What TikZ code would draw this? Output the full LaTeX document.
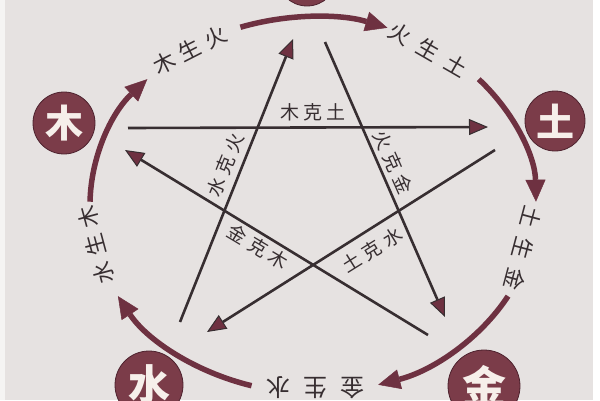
\documentclass[tikz,border=0pt]{standalone}
\usepackage{fontspec}
\setmainfont{Noto Sans CJK SC}
\usetikzlibrary{arrows.meta}
\definecolor{bg}{HTML}{E6E2E1}
\definecolor{maroon}{HTML}{6E3141}
\definecolor{elemfill}{HTML}{7B3C49}
\definecolor{ink}{HTML}{372E31}
\definecolor{cream}{HTML}{F6EFEA}
\begin{document}
\begin{tikzpicture}[x=1pt,y=1pt,
 elem/.style={circle, fill=elemfill, draw=maroon!70!black, line width=0.8pt, text=cream, inner sep=0pt, font=\bfseries\fontsize{38}{38}\selectfont},
 shengarc/.style={maroon, line width=5.5pt, -{Triangle[length=22pt,width=20pt,line width=0.5pt]}},
 kearrow/.style={ink, line width=2.6pt, -{Triangle[length=19pt,width=16pt,fill=maroon,line width=1pt]}},
 shenglbl/.style={text=ink, inner sep=0pt, font=\fontsize{22}{22}\selectfont},
 kelbl/.style={text=ink, inner sep=0pt, font=\fontsize{19}{19}\selectfont}]
\useasboundingbox (0,0) rectangle (600,400);
\fill[bg] (0,0) rectangle (600,400);
\fill[white] (593,0) rectangle (600,400);
\fill[white!60!bg] (0,0) rectangle (5,400);
% element circles
\node[elem, minimum size=60pt] (huo) at (307,424) {火};
\node[elem, minimum size=62pt] (mu) at (64,277) {木};
\node[elem, minimum size=60pt] (tu) at (555,279) {土};
\node[elem, minimum size=68pt, font=\bfseries\fontsize{42}{42}\selectfont] (shui) at (149,15) {水};
\node[elem, minimum size=72pt, font=\bfseries\fontsize{44}{44}\selectfont] (jin) at (484,14) {金};
% outer generating cycle
\coordinate (O) at (313,195);
\path (O) ++(179:223pt and 188pt) coordinate (a1s);
\path (O) ++(109:223pt and 188pt) coordinate (a2s);
\path (O) ++(42:223pt and 188pt) coordinate (a3s);
\path (O) ++(-29:223pt and 188pt) coordinate (a4s);
\path (O) ++(-106:223pt and 188pt) coordinate (a5s);
\draw[shengarc] (a1s) arc[start angle=179, end angle=138, x radius=223, y radius=188];
\draw[shengarc] (a2s) arc[start angle=109, end angle=70.5, x radius=223, y radius=188];
\draw[shengarc] (a3s) arc[start angle=42, end angle=1, x radius=223, y radius=188];
\draw[shengarc] (a4s) arc[start angle=-29, end angle=-73, x radius=223, y radius=188];
\draw[shengarc] (a5s) arc[start angle=-106, end angle=-151, x radius=223, y radius=188];
% generating labels
\node[shenglbl, rotate=27] (l1) at (190,350) {木\kern7pt 生\kern7pt 火};
\node[shenglbl, rotate=-30] (l2) at (428,350) {火\kern10pt 生\kern10pt 土};
\node[shenglbl, rotate=-105] (l3) at (523,152) {土\kern10pt 生\kern10pt 金};
\node[shenglbl, rotate=180, font=\fontsize{24}{24}\selectfont] (l4) at (315,12) {金\kern13pt 生\kern13pt 水};
\node[shenglbl, rotate=105] (l5) at (96,155) {水\kern7pt 生\kern7pt 木};
% controlling star
\coordinate (k1a) at (128,272); \coordinate (k1b) at (488,273);
\coordinate (k2a) at (180,78);  \coordinate (k2b) at (293,361);
\coordinate (k3a) at (325,358); \coordinate (k3b) at (445,83);
\coordinate (k4a) at (495,250); \coordinate (k4b) at (207,68);
\coordinate (k5a) at (428,65);  \coordinate (k5b) at (125,250);
\draw[kearrow] (k1a) -- (k1b);
\draw[kearrow] (k2a) -- (k2b);
\draw[kearrow] (k3a) -- (k3b);
\draw[kearrow] (k4a) -- (k4b);
\draw[kearrow] (k5a) -- (k5b);
% controlling labels
\node[kelbl] (m1) at (313,288) {木\kern4pt 克\kern4pt 土};
\node[kelbl, rotate=68] (m2) at (225,235) {水\kern5pt 克\kern5pt 火};
\node[kelbl, rotate=-66] (m3) at (393,238) {火\kern5pt 克\kern5pt 金};
\node[kelbl, rotate=-31] (m4) at (258,153) {金\kern5pt 克\kern5pt 木};
\node[kelbl, rotate=32] (m5) at (372,150) {土\kern5pt 克\kern5pt 水};
\end{tikzpicture}
\end{document}
